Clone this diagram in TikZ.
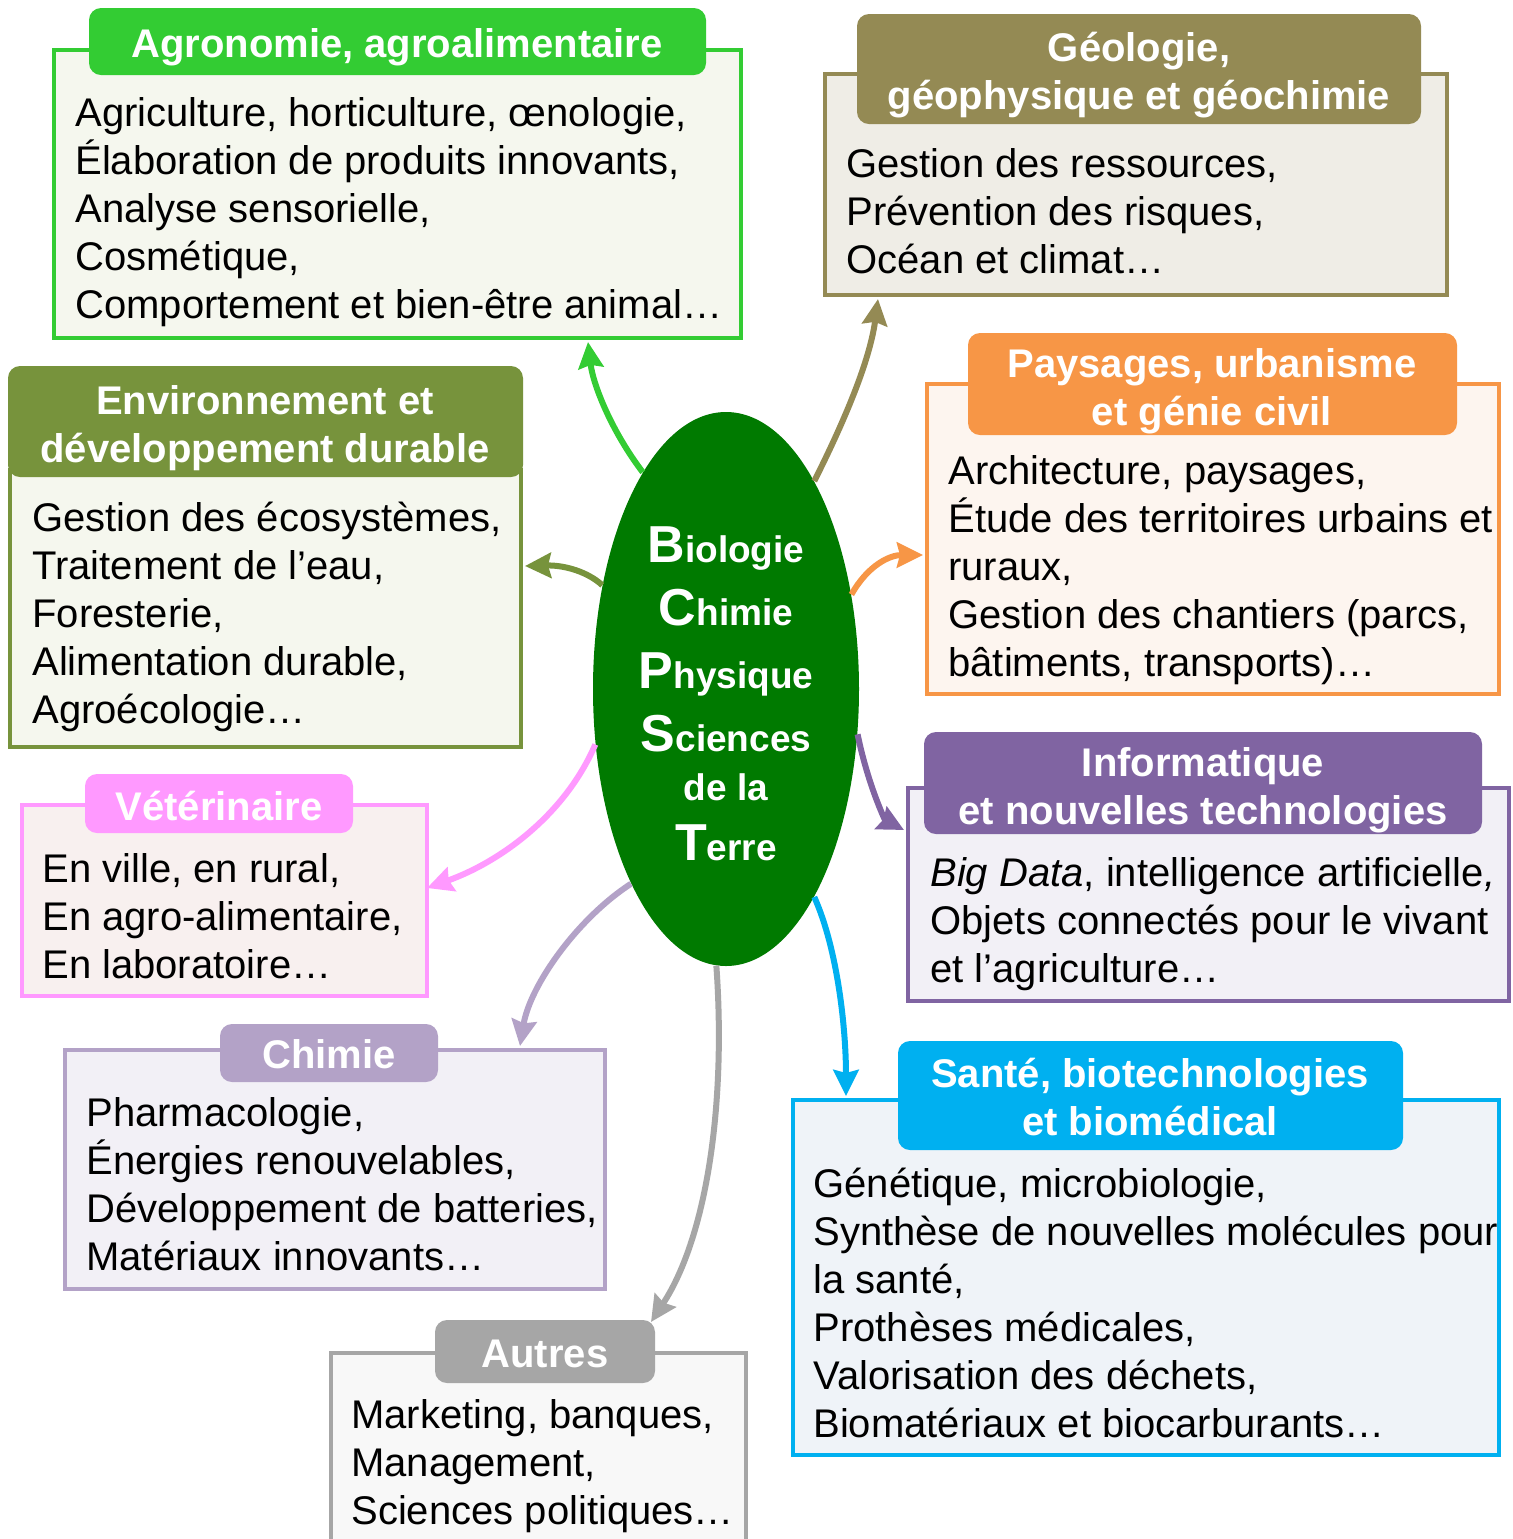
\documentclass[tikz,border=0pt]{standalone}
\usepackage{fontspec}
\setmainfont{Liberation Sans}
\usetikzlibrary{shapes.geometric,arrows.meta}
\definecolor{cAgro}{HTML}{33CC33}
\definecolor{fAgro}{HTML}{F5F7EE}
\definecolor{cGeo}{HTML}{948A54}
\definecolor{fGeo}{HTML}{EFEDE6}
\definecolor{cEnv}{HTML}{77933C}
\definecolor{fEnv}{HTML}{F5F7EE}
\definecolor{cPay}{HTML}{F79646}
\definecolor{fPay}{HTML}{FDF5EF}
\definecolor{cInfo}{HTML}{8064A2}
\definecolor{fInfo}{HTML}{F2F0F6}
\definecolor{cVet}{HTML}{FF99FF}
\definecolor{fVet}{HTML}{F8F0EF}
\definecolor{cChim}{HTML}{B3A2C7}
\definecolor{fChim}{HTML}{F2F0F6}
\definecolor{cSan}{HTML}{00B0F0}
\definecolor{fSan}{HTML}{EFF3F8}
\definecolor{cAut}{HTML}{A6A6A6}
\definecolor{fAut}{HTML}{F8F8F8}
\definecolor{cCtr}{HTML}{007A00}
\newcommand{\lftlines}[1]{\vtop{\baselineskip=24pt\lineskiplimit=-50pt\lineskip=0pt\halign{##\hfil\cr#1\crcr}}}
\newcommand{\ctrlines}[1]{\vtop{\baselineskip=24pt\lineskiplimit=-50pt\lineskip=0pt\halign{\hfil##\hfil\cr#1\crcr}}}
\newcommand{\bigini}[1]{{\fontsize{26pt}{26pt}\selectfont #1}}
\tikzset{
  catbox/.style 2 args={draw=#1, fill=#2, line width=2pt, anchor=north west, inner sep=0pt, outer sep=0pt},
  cattab/.style={fill=#1, rounded corners=6pt, anchor=north west, inner sep=0pt, outer sep=0pt},
  bodytxt/.style={anchor=base west, inner sep=0pt, text=black, font=\fontsize{20pt}{24pt}\selectfont},
  tabtxt/.style={anchor=base, inner sep=0pt, text=white, font=\bfseries\fontsize{20pt}{24pt}\selectfont},
  arr/.style={draw=#1, line width=3pt, -{Stealth[length=13pt,width=12.5pt,inset=1.5pt]}}
}
\begin{document}
\begin{tikzpicture}[x=0.5pt,y=-0.5pt]
\path[use as bounding box, clip] (0,0) rectangle (1513,1539);
\fill[white] (0,0) rectangle (1513,1539);

% Agronomie
\node[catbox={cAgro}{fAgro}, minimum width=343.5pt, minimum height=144pt] (agrobox) at (54,50) {};
\node[cattab=cAgro, minimum width=308.5pt, minimum height=33.5pt] (agrotab) at (89,8) {};
\node[tabtxt] (agrotitle) at (397,57) {\ctrlines{Agronomie, agroalimentaire}};
\node[bodytxt] (agrobody) at (75,126) {\lftlines{Agriculture, horticulture, œnologie,\cr Élaboration de produits innovants,\cr Analyse sensorielle,\cr Cosmétique,\cr Comportement et bien-être animal…}};

% Geologie
\node[catbox={cGeo}{fGeo}, minimum width=311pt, minimum height=110.5pt] (geobox) at (825,74) {};
\node[cattab=cGeo, minimum width=282pt, minimum height=55pt] (geotab) at (857,14) {};
\node[tabtxt] (geotitle) at (1139,61) {\ctrlines{Géologie,\cr géophysique et géochimie}};
\node[bodytxt] (geobody) at (846,177) {\lftlines{Gestion des ressources,\cr Prévention des risques,\cr Océan et climat…}};

% Environnement
\node[catbox={cEnv}{fEnv}, minimum width=255.5pt, minimum height=138.5pt] (envbox) at (10,470) {};
\node[cattab=cEnv, minimum width=257.5pt, minimum height=55.5pt] (envtab) at (8,366) {};
\node[tabtxt] (envtitle) at (265,414) {\ctrlines{Environnement et\cr développement durable}};
\node[bodytxt] (envbody) at (32,531) {\lftlines{Gestion des écosystèmes,\cr Traitement de l’eau,\cr Foresterie,\cr Alimentation durable,\cr Agroécologie…}};

% Paysages
\node[catbox={cPay}{fPay}, minimum width=286pt, minimum height=155pt] (paybox) at (927,384) {};
\node[cattab=cPay, minimum width=244.5pt, minimum height=51pt] (paytab) at (968,333) {};
\node[tabtxt] (paytitle) at (1212,377) {\ctrlines{Paysages, urbanisme\cr et génie civil}};
\node[bodytxt] (paybody) at (948,484) {\lftlines{Architecture, paysages,\cr Étude des territoires urbains et\cr ruraux,\cr Gestion des chantiers (parcs,\cr bâtiments, transports)…}};

% Informatique
\node[catbox={cInfo}{fInfo}, minimum width=300.5pt, minimum height=106.5pt] (infobox) at (908,788) {};
\node[cattab=cInfo, minimum width=279pt, minimum height=51pt] (infotab) at (924,732) {};
\node[tabtxt] (infotitle) at (1203,776) {\ctrlines{Informatique\cr et nouvelles technologies}};
\node[bodytxt] (infobody) at (930,886) {\lftlines{\textit{Big Data}, intelligence artificielle\textit{,}\cr Objets connectés pour le vivant\cr et l’agriculture…}};

% Veterinaire
\node[catbox={cVet}{fVet}, minimum width=202.5pt, minimum height=95.5pt] (vetbox) at (22,805) {};
\node[cattab=cVet, minimum width=134pt, minimum height=29.5pt] (vettab) at (85,774) {};
\node[tabtxt] (vettitle) at (219,820) {\ctrlines{Vétérinaire}};
\node[bodytxt] (vetbody) at (42,882) {\lftlines{En ville, en rural,\cr En agro-alimentaire,\cr En laboratoire…}};

% Chimie
\node[catbox={cChim}{fChim}, minimum width=270pt, minimum height=119.5pt] (chimbox) at (65,1050) {};
\node[cattab=cChim, minimum width=109pt, minimum height=29pt] (chimtab) at (220,1024) {};
\node[tabtxt] (chimtitle) at (329,1068) {\ctrlines{Chimie}};
\node[bodytxt] (chimbody) at (86,1126) {\lftlines{Pharmacologie,\cr Énergies renouvelables,\cr Développement de batteries,\cr Matériaux innovants…}};

% Sante
\node[catbox={cSan}{fSan}, minimum width=353pt, minimum height=177.5pt] (sanbox) at (793,1100) {};
\node[cattab=cSan, minimum width=252.5pt, minimum height=54.5pt] (santab) at (898,1041) {};
\node[tabtxt] (santitle) at (1150,1087) {\ctrlines{Santé, biotechnologies\cr et biomédical}};
\node[bodytxt] (sanbody) at (813,1197) {\lftlines{Génétique, microbiologie,\cr Synthèse de nouvelles molécules pour\cr la santé,\cr Prothèses médicales,\cr Valorisation des déchets,\cr Biomatériaux et biocarburants…}};

% Autres
\node[catbox={cAut}{fAut}, minimum width=207.5pt, minimum height=103.5pt] (autbox) at (331,1353) {};
\node[cattab=cAut, minimum width=110pt, minimum height=31.5pt] (auttab) at (435,1320) {};
\node[tabtxt] (auttitle) at (545,1367) {\ctrlines{Autres}};
\node[bodytxt] (autbody) at (351,1428) {\lftlines{Marketing, banques,\cr Management,\cr Sciences politiques…}};

% Centre
\node[ellipse, fill=cCtr, minimum width=133pt, minimum height=277pt, inner sep=0pt] (c) at (726,689) {};
\node[anchor=base, inner sep=0pt, text=white, font=\bfseries\fontsize{18.5pt}{22pt}\selectfont] (ctxt) at (726,562)
 {\vtop{\baselineskip=31.5pt\lineskiplimit=-50pt\lineskip=0pt\halign{\hfil#\hfil\cr
 \bigini{B}iologie\cr \bigini{C}himie\cr \bigini{P}hysique\cr \bigini{S}ciences\cr
 \noalign{\vskip-7pt} de la\cr \noalign{\vskip-1.5pt} \bigini{T}erre\crcr}}};

% Connecteurs
\draw[arr=cAgro] (c.111.2) .. controls (612,432) and (593,385) .. ([xshift=267pt,yshift=-2pt]agrobox.south west);
\draw[arr=cGeo] (c.67.4) .. controls (845,420) and (870,360) .. ([xshift=26.5pt,yshift=-2pt]geobox.south west);
\draw[arr=cEnv] (c.140.5) .. controls (588,572) and (565,565) .. ([xshift=2pt,yshift=90.5pt]envbox.south east);
\draw[arr=cPay] (c.37.5) .. controls (868,565) and (890,555) .. ([xshift=-2pt,yshift=-85.5pt]paybox.north west);
\draw[arr=cInfo] (c.-19.2) .. controls (868,785) and (885,820) .. ([xshift=-2pt,yshift=-21pt]infobox.north west);
\draw[arr=cVet] (c.203.3) .. controls (565,815) and (500,862) .. ([yshift=-41.5pt]vetbox.north east);
\draw[arr=cChim] (c.244.5) .. controls (578,918) and (530,985) .. ([xshift=227.5pt,yshift=2pt]chimbox.north west);
\draw[arr=cAut] (c.268.3) .. controls (726,1100) and (708,1235) .. ([xshift=-2pt,yshift=-1pt]auttab.north east);
\draw[arr=cSan] (c.293.6) .. controls (838,950) and (846,1030) .. ([xshift=26.5pt,yshift=2pt]sanbox.north west);
\end{tikzpicture}
\end{document}
